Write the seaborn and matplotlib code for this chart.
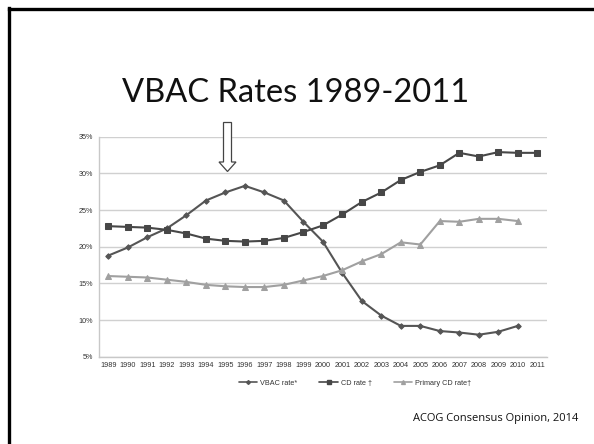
import matplotlib
matplotlib.use("Agg")
import matplotlib.pyplot as plt
from matplotlib.patches import FancyArrow
from matplotlib.lines import Line2D
import seaborn as sns
import pandas as pd

years = list(range(1989, 2012))
vbac_rate = [18.8, 19.9, 21.3, 22.5, 24.3, 26.3, 27.4, 28.3, 27.4, 26.3, 23.4, 20.7,
             16.4, 12.6, 10.6, 9.2, 9.2, 8.5, 8.3, 8.0, 8.4, 9.2, None]
cd_rate = [22.8, 22.7, 22.6, 22.3, 21.8, 21.1, 20.8, 20.7, 20.8, 21.2, 22.0, 22.9,
           24.4, 26.1, 27.4, 29.1, 30.2, 31.1, 32.8, 32.3, 32.9, 32.8, 32.8]
primary_cd_rate = [16.0, 15.9, 15.8, 15.5, 15.2, 14.8, 14.6, 14.5, 14.5, 14.8, 15.4, 16.0,
                   16.8, 18.0, 19.0, 20.6, 20.3, 23.5, 23.4, 23.8, 23.8, 23.5, None]
series_names = ["VBAC rate*", "CD rate \u2020", "Primary CD rate\u2020"]
y_ticks = [5, 10, 15, 20, 25, 30, 35]

rows = []
for name, vals in zip(series_names, [vbac_rate, cd_rate, primary_cd_rate]):
    for yr, v in zip(years, vals):
        if v is not None:
            rows.append({"year": yr, "rate": v, "series": name})
df = pd.DataFrame(rows)

sns.set_theme(style="white")
plt.rcParams["font.family"] = ["Liberation Sans", "DejaVu Sans"]

fig = plt.figure(figsize=(5.94, 4.44), dpi=100)
fig.patch.set_facecolor("white")

ax = fig.add_axes([0.1662, 0.1966, 0.7547, 0.4955])

colors = {series_names[0]: "#555555", series_names[1]: "#474747", series_names[2]: "#a0a0a0"}
markers = {series_names[0]: "D", series_names[1]: "s", series_names[2]: "^"}
msizes = {series_names[0]: 2.8, series_names[1]: 3.8, series_names[2]: 4.0}

for name in series_names:
    sub = df[df["series"] == name]
    sns.lineplot(data=sub, x="year", y="rate", ax=ax, color=colors[name],
                 marker=markers[name], markersize=msizes[name], linewidth=1.5,
                 markeredgecolor=colors[name], legend=False)

ax.set_xlim(1988.5, 2011.5)
ax.set_ylim(5, 35)
ax.set_xticks(years)
ax.set_xticklabels([str(y) for y in years], fontsize=5.2, color="#333333")
ax.set_yticks(y_ticks)
ax.set_yticklabels([f"{t}%" for t in y_ticks], fontsize=5.2, color="#333333")
ax.set_xlabel("")
ax.set_ylabel("")
ax.grid(axis="y", color="#d0d0d0", linewidth=1.0)
ax.set_axisbelow(True)
for side in ["top", "right"]:
    ax.spines[side].set_visible(False)
for side in ["left", "bottom"]:
    ax.spines[side].set_color("#c8c8c8")
    ax.spines[side].set_linewidth(1.0)
ax.tick_params(axis="both", length=0, pad=4)

handles = [Line2D([0], [0], color=colors[n], marker=markers[n], markersize=msizes[n] * 0.7,
                  linewidth=1.2) for n in series_names]
fig.legend(handles, series_names, loc="center", bbox_to_anchor=(355 / 594, 1 - 383 / 444),
           ncol=3, frameon=False, fontsize=5.2, handlelength=2.6, columnspacing=3.0,
           handletextpad=0.4, labelcolor="#333333")

fig.text(122 / 594, 1 - 93 / 444, "VBAC Rates 1989-2011", fontsize=23.5,
         family=["Lato", "DejaVu Sans"], fontweight="normal", ha="left", va="center",
         color="#111111")
fig.text(578 / 594, 1 - 418 / 444, "ACOG Consensus Opinion, 2014", fontsize=8,
         family=["Open Sans", "DejaVu Sans"], ha="right", va="center", color="#111111")

# down arrow pointing at the 1996 peak
arrow = FancyArrow(227.5 / 594, 1 - 122.5 / 444, 0, -(171.5 - 122.5) / 444,
                   width=8 / 594, head_width=17 / 594, head_length=9.5 / 444,
                   length_includes_head=True, transform=fig.transFigure,
                   facecolor="white", edgecolor="#444444", linewidth=0.9)
fig.patches.append(arrow)

# slide frame along the left and top edges
fig.add_artist(Line2D([8.5 / 594, 8.5 / 594], [0, 1 - 8 / 444], color="black",
                      linewidth=2.4, transform=fig.transFigure, solid_capstyle="projecting"))
fig.add_artist(Line2D([8.5 / 594, 1.0], [1 - 9.5 / 444, 1 - 9.5 / 444], color="black",
                      linewidth=2.4, transform=fig.transFigure, solid_capstyle="projecting"))

fig.savefig("out.png", dpi=100, facecolor="white")
